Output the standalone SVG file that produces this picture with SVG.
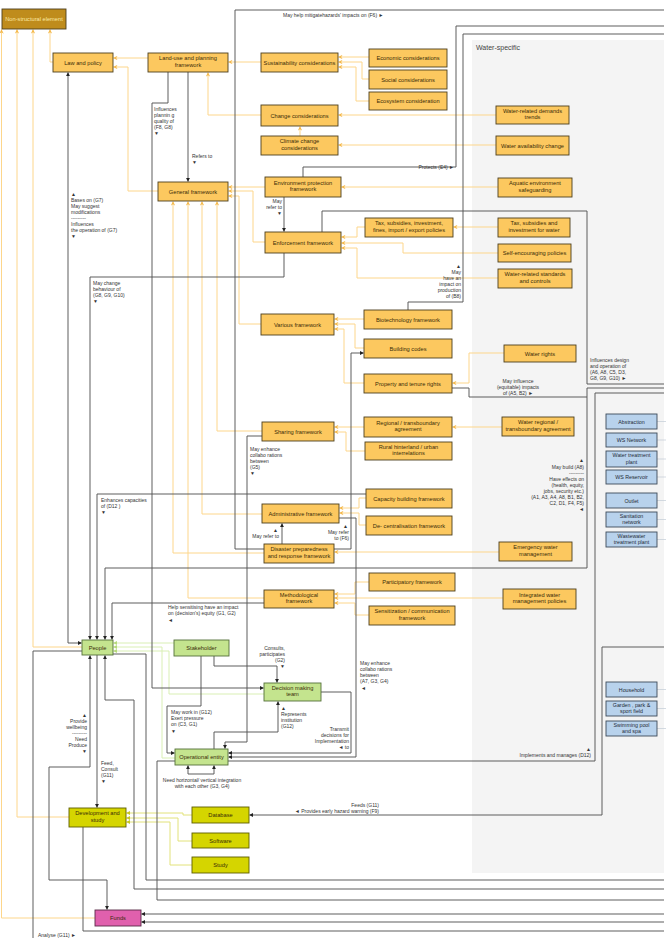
<svg xmlns="http://www.w3.org/2000/svg" width="669" height="938" viewBox="0 0 669 938">
<defs>
<style>
.o rect{fill:#fcc85f;stroke:#4d3f1d;stroke-width:0.9}
.g rect{fill:#c4e48e;stroke:#55703a;stroke-width:0.9}
.y rect{fill:#d5d500;stroke:#5e5e00;stroke-width:0.9}
.p rect{fill:#e060ad;stroke:#5a2a48;stroke-width:0.9}
.b rect{fill:#b8d2ec;stroke:#3d4b5a;stroke-width:0.9}
text{font-family:"Liberation Sans",Arial,sans-serif}
.n text{font-size:5.7px;fill:#3a2c08;text-anchor:middle}
.b text{font-size:5.3px;fill:#1f2a36}
.lb{font-size:5px;fill:#333}
.r{text-anchor:end}
.m{text-anchor:middle}
.c path{fill:none}
.dk{stroke:#555;stroke-width:0.95}
.or{stroke:#fdd68b;stroke-width:1}
.gr{stroke:#d9efb4;stroke-width:1}
.yg{stroke:#e2e27a;stroke-width:1}
.stub{stroke:#b8c4d0;stroke-width:0.6}
</style>
<marker id="ad" viewBox="0 0 6 6" refX="5.5" refY="3" markerWidth="4" markerHeight="4" orient="auto-start-reverse" markerUnits="userSpaceOnUse"><path d="M0,0 L6,3 L0,6 z" fill="#222"/></marker>
<marker id="ao" viewBox="0 0 6 6" refX="5.5" refY="3" markerWidth="4.5" markerHeight="4.5" orient="auto" markerUnits="userSpaceOnUse"><path d="M0,0 L6,3 L0,6 L2,3 z" fill="#f4b84a"/></marker>
<marker id="ag" viewBox="0 0 6 6" refX="5.5" refY="3" markerWidth="4" markerHeight="4" orient="auto" markerUnits="userSpaceOnUse"><path d="M0,0 L6,3 L0,6 z" fill="#b6da7c"/></marker>
<marker id="ay" viewBox="0 0 6 6" refX="5.5" refY="3" markerWidth="4" markerHeight="4" orient="auto" markerUnits="userSpaceOnUse"><path d="M0,0 L6,3 L0,6 z" fill="#c8c820"/></marker>
</defs>
<rect width="669" height="938" fill="#fff"/>
<!-- water-specific panel -->
<rect x="472" y="40" width="192" height="833" fill="#f4f4f4"/>
<text x="476" y="50" font-size="7" fill="#444">Water-specific</text>

<g id="connectors" class="c">
<!-- composition links (orange) -->
<g class="or">
<path d="M53,62 H50 V29.5" marker-end="url(#ao)"/>
<path d="M82,647 H33 V29.5" marker-end="url(#ao)"/>
<path d="M69,817 H17 V29.5" marker-end="url(#ao)"/>
<path d="M95,918 H1.5 V29.5" marker-end="url(#ao)"/>
<path d="M148,58 H113.5" marker-end="url(#ao)"/>
<path d="M158,191 H128 V67 H113.5" marker-end="url(#ao)"/>
<path d="M261,62 H228.5" marker-end="url(#ao)"/>
<path d="M261,115 H208 V72.5" marker-end="url(#ao)"/>
<path d="M369,57 H338.5" marker-end="url(#ao)"/>
<path d="M369,79 H362 V62 H338.5" marker-end="url(#ao)"/>
<path d="M369,101 H356 V67 H338.5" marker-end="url(#ao)"/>
<path d="M300,136 V126.5" marker-end="url(#ao)"/>
<path d="M496,115 H338.5" marker-end="url(#ao)"/>
<path d="M496,145 H338.5" marker-end="url(#ao)"/>
<path d="M498,187 H341.5" marker-end="url(#ao)"/>
<path d="M265,187 H228.5" marker-end="url(#ao)"/>
<path d="M265,242 H253 V191 H228.5" marker-end="url(#ao)"/>
<path d="M261,324 H239 V196 H228.5" marker-end="url(#ao)"/>
<path d="M262,431 H217 V201.5" marker-end="url(#ao)"/>
<path d="M262,514 H202 V201.5" marker-end="url(#ao)"/>
<path d="M264,598 H188 V201.5" marker-end="url(#ao)"/>
<path d="M264,553 H173 V201.5" marker-end="url(#ao)"/>
<path d="M365,227 H357 V237 H341.5" marker-end="url(#ao)"/>
<path d="M498,253 H403 V243 H341.5" marker-end="url(#ao)"/>
<path d="M498,278 H357 V248 H341.5" marker-end="url(#ao)"/>
<path d="M498,227 H453.5" marker-end="url(#ao)"/>
<path d="M364,319 H334.5" marker-end="url(#ao)"/>
<path d="M364,348 H355 V324 H334.5" marker-end="url(#ao)"/>
<path d="M364,383 H344 V329 H334.5" marker-end="url(#ao)"/>
<path d="M504,353 H469 V383 H452.5" marker-end="url(#ao)"/>
<path d="M364,427 H334.5" marker-end="url(#ao)"/>
<path d="M365,451 H346 V432 H334.5" marker-end="url(#ao)"/>
<path d="M502,427 H452.5" marker-end="url(#ao)"/>
<path d="M366,498 H359 V508 H339.5" marker-end="url(#ao)"/>
<path d="M366,525 H359 V513 H339.5" marker-end="url(#ao)"/>
<path d="M499,552 H334.5" marker-end="url(#ao)"/>
<path d="M369,582 H355 V594 H334.5" marker-end="url(#ao)"/>
<path d="M503,598 H334.5" marker-end="url(#ao)"/>
<path d="M369,615 H355 V603 H334.5" marker-end="url(#ao)"/>
</g>
<!-- actor links (green) -->
<g class="gr">
<path d="M174,643 H113.5" marker-end="url(#ag)"/>
<path d="M175,758 H162 V647 H113.5" marker-end="url(#ag)"/>
<path d="M264,694 H169 V651 H113.5" marker-end="url(#ag)"/>
</g>
<!-- study links (yellow) -->
<g class="yg">
<path d="M192,815 H183 V813 H126.5" marker-end="url(#ay)"/>
<path d="M192,841 H178 V818 H126.5" marker-end="url(#ay)"/>
<path d="M192,865 H170 V822 H126.5" marker-end="url(#ay)"/>
</g>
<!-- relations (dark) -->
<g class="dk">
<path d="M264,549 H235 V10 H664"/>
<path d="M303,177 V167 H456 V26 H664"/>
<path d="M322,232 V211 H587 V384 H664"/>
<path d="M284,253 V277 H90 V639.5" marker-end="url(#ad)"/>
<path d="M284,197 V231.5" marker-end="url(#ad)"/>
<path d="M188,72 V181.5" marker-end="url(#ad)"/>
<path d="M168,72 V103 H152 V688 H263.5" marker-end="url(#ad)"/>
<path d="M68,72.5 V643 H81.5" marker-start="url(#ad)" marker-end="url(#ad)"/>
<path d="M408,310 V302 H463 V34 H664"/>
<path d="M452,388 H469 V397 H587"/>
<path d="M664,388 H587 V568 H105 V639.5" marker-end="url(#ad)"/>
<path d="M366,494 H97 V639.5" marker-end="url(#ad)"/>
<path d="M262,436 H247 V742 H225 V748.5" marker-end="url(#ad)"/>
<path d="M334,549 H351 V353 H363.5" marker-end="url(#ad)"/>
<path d="M282,544 V523.5" marker-end="url(#ad)"/>
<path d="M339,518 H356 V757 H228.5" marker-end="url(#ad)"/>
<path d="M321,692 H351 V753 H228.5" marker-end="url(#ad)"/>
<path d="M264,603 H112 V639.5" marker-end="url(#ad)"/>
<path d="M214,656 V666 H277 V682.5" marker-end="url(#ad)"/>
<path d="M201,656 V706 H167 V753 H174.5" marker-end="url(#ad)"/>
<path d="M214,749 V732 H278 V701.5" marker-end="url(#ad)"/>
<path d="M188,765.5 V774 H214 V765.5" marker-start="url(#ad)" marker-end="url(#ad)"/>
<path d="M664,393 H595 V761 H157 V900 H664"/>
<path d="M664,647 H602 V815 H249.5" marker-end="url(#ad)"/>
<path d="M90,655.5 V767 H49 V880 H107 V909.5" marker-start="url(#ad)" marker-end="url(#ad)"/>
<path d="M113,654 H146 V880 H664"/>
<path d="M105,655.5 V700 H134 V889 H664" marker-start="url(#ad)"/>
<path d="M97,655 V807.5" marker-end="url(#ad)"/>
<path d="M82,651 H33 V938"/>
<path d="M83,827 V931 H664"/>
<path d="M664,914 H141.5" marker-end="url(#ad)"/>
<path d="M664,922 H141.5" marker-end="url(#ad)"/>
</g>
<!-- infrastructure stubs -->
<g class="stub">
<path d="M657,421.5 H666 M657,440 H666 M657,459 H666 M657,477 H666 M657,500.5 H666 M657,519.5 H666 M657,539.5 H666 M657,689.5 H666 M657,708.5 H666 M657,728.5 H666"/>
</g>
</g>

<!-- relation labels -->
<g id="labels" class="lb">
<text x="283" y="17">May help mitigatehazards' impacts on (F6) ►</text>
<text x="454" y="169" class="r">Protects (E4) ►</text>
<text x="154" y="111">Influences</text>
<text x="154" y="117">plannin g</text>
<text x="154" y="123">quality of</text>
<text x="154" y="129">(F8, G8)</text>
<text x="154" y="135">▼</text>
<text x="192" y="158">Refers to</text>
<text x="192" y="164">▼</text>
<text x="71" y="196">▲</text>
<text x="71" y="202">Bases on (G7)</text>
<text x="71" y="208">May suggest</text>
<text x="71" y="214">modifications</text>
<text x="71" y="220">---------</text>
<text x="71" y="226">Influences</text>
<text x="71" y="232">the operation of (G7)</text>
<text x="71" y="238">▼</text>
<text x="282" y="203" class="r">May</text>
<text x="282" y="209" class="r">refer to</text>
<text x="282" y="215" class="r">▼</text>
<text x="461" y="268" class="r">▲</text>
<text x="461" y="274" class="r">May</text>
<text x="461" y="280" class="r">have an</text>
<text x="461" y="286" class="r">impact on</text>
<text x="461" y="292" class="r">production</text>
<text x="461" y="298" class="r">of (B8)</text>
<text x="590" y="362">Influences design</text>
<text x="590" y="368">and operation of</text>
<text x="590" y="374">(A6, A8, C5, D3,</text>
<text x="590" y="380">G8, G9, G10)    ►</text>
<text x="518" y="383" class="m">May influence</text>
<text x="518" y="389" class="m">(equitable) impacts</text>
<text x="518" y="395" class="m">of (A5, B2) ►</text>
<text x="93" y="285">May change</text>
<text x="93" y="291">behaviour of</text>
<text x="93" y="297">(G8, G9, G10)</text>
<text x="93" y="303">▼</text>
<text x="250" y="451">May enhance</text>
<text x="250" y="457">collabo rations</text>
<text x="250" y="463">between</text>
<text x="250" y="469">(G5)</text>
<text x="250" y="475">▼</text>
<text x="101" y="502">Enhances capacities</text>
<text x="101" y="508">of (D12 )</text>
<text x="101" y="514">▼</text>
<text x="584" y="462" class="r">▲</text>
<text x="584" y="469" class="r">May build (A8)</text>
<text x="584" y="475" class="r">---------</text>
<text x="584" y="481" class="r">Have effects on</text>
<text x="584" y="487" class="r">(health, equity,</text>
<text x="584" y="493" class="r">jobs, security etc.)</text>
<text x="584" y="499" class="r">(A1, A3, A4, A8, B1, B2,</text>
<text x="584" y="505" class="r">C2, D1, F4, F5)</text>
<text x="584" y="511" class="r">◄</text>
<text x="278" y="532" class="r">▲</text>
<text x="279" y="538" class="r">May refer to</text>
<text x="348" y="528" class="r">▲</text>
<text x="349" y="534" class="r">May refer</text>
<text x="349" y="540" class="r">to (F6)</text>
<text x="168" y="609">Help sensitising have an impact</text>
<text x="168" y="615">on (decision's) equity (G1, G2)</text>
<text x="168" y="622">◄</text>
<text x="285" y="650" class="r">Consults,</text>
<text x="285" y="656" class="r">participates</text>
<text x="285" y="662" class="r">(G2)</text>
<text x="285" y="668" class="r">▼</text>
<text x="360" y="665">May enhance</text>
<text x="360" y="671">collabo rations</text>
<text x="360" y="677">between</text>
<text x="360" y="683">(A7, G3, G4)</text>
<text x="361" y="690">◄</text>
<text x="281" y="710">▲</text>
<text x="281" y="716">Represents</text>
<text x="281" y="722">institution</text>
<text x="281" y="728">(G12)</text>
<text x="349" y="731" class="r">Transmit</text>
<text x="349" y="737" class="r">decisions for</text>
<text x="349" y="743" class="r">Implementation</text>
<text x="349" y="749" class="r">◄ to</text>
<text x="171" y="714">May work in (G12)</text>
<text x="171" y="720">Exert pressure</text>
<text x="171" y="726">on (C3, G1)</text>
<text x="171" y="733">▼</text>
<text x="202" y="782" class="m">Need horizontal/ vertical integration</text>
<text x="202" y="788" class="m">with each other (G3, G4)</text>
<text x="87" y="717" class="r">▲</text>
<text x="87" y="723" class="r">Provide</text>
<text x="87" y="729" class="r">wellbeing</text>
<text x="87" y="735" class="r">---------</text>
<text x="87" y="741" class="r">Need</text>
<text x="87" y="747" class="r">Produce</text>
<text x="87" y="753" class="r">▼</text>
<text x="101" y="765">Feed,</text>
<text x="101" y="771">Consult</text>
<text x="101" y="777">(G11)</text>
<text x="101" y="783">▼</text>
<text x="379" y="807" class="r">Feeds (G11)</text>
<text x="379" y="813" class="r">◄ Provides early hazard warning (F9)</text>
<text x="591" y="751" class="r">▲</text>
<text x="591" y="757" class="r">Implements and manages (D12)</text>
<text x="38" y="937">Analyse (G11) ►</text>
</g>

<!-- nodes -->
<g id="non-structural-element" class="n"><rect x="2" y="9" width="64" height="20" style="fill:#bf8c1c;stroke:#4d3f1d;stroke-width:0.9"/><text x="34" y="21" style="fill:#fbe8a4">Non-structural element</text></g>
<g id="law-and-policy" class="n o"><rect x="53" y="53" width="60" height="19"/><text x="83" y="64.5">Law and policy</text></g>
<g id="land-use-framework" class="n o"><rect x="148" y="53" width="80" height="19"/><text x="188" y="60">Land-use and planning</text><text x="188" y="66.5">framework</text></g>
<g id="general-framework" class="n o"><rect x="158" y="182" width="70" height="19"/><text x="193" y="193.5">General  framework</text></g>
<g id="sustainability" class="n o"><rect x="261" y="53" width="77" height="19"/><text x="299.5" y="64.5">Sustainability considerations</text></g>
<g id="economic" class="n o"><rect x="369" y="49" width="78" height="18"/><text x="408" y="60">Economic considerations</text></g>
<g id="social" class="n o"><rect x="369" y="70" width="78" height="19"/><text x="408" y="81.5">Social considerations</text></g>
<g id="ecosystem" class="n o"><rect x="369" y="92" width="78" height="18"/><text x="408" y="103">Ecosystem consideration</text></g>
<g id="change" class="n o"><rect x="261" y="105" width="77" height="21"/><text x="299.5" y="117.5">Change considerations</text></g>
<g id="climate-change" class="n o"><rect x="261" y="136" width="77" height="19"/><text x="299.5" y="143">Climate change</text><text x="299.5" y="149.5">considerations</text></g>
<g id="environment-protection" class="n o"><rect x="265" y="177" width="76" height="20"/><text x="303" y="184.5">Environment protection</text><text x="303" y="191">framework</text></g>
<g id="enforcement" class="n o"><rect x="265" y="232" width="76" height="21"/><text x="303" y="244.5">Enforcement framework</text></g>
<g id="tax-general" class="n o"><rect x="365" y="218" width="88" height="19"/><text x="409" y="225">Tax,  subsidies,  investment,</text><text x="409" y="231.5">fines, import / export policies</text></g>
<g id="water-demands" class="n o"><rect x="496" y="106" width="73" height="18"/><text x="532.5" y="112.5">Water-related demands</text><text x="532.5" y="119">trends</text></g>
<g id="water-availability" class="n o"><rect x="496" y="136" width="73" height="19"/><text x="532.5" y="147.5">Water availability change</text></g>
<g id="aquatic" class="n o"><rect x="498" y="178" width="74" height="19"/><text x="535" y="185">Aquatic  environment</text><text x="535" y="191.5">safeguarding</text></g>
<g id="tax-water" class="n o"><rect x="498" y="218" width="72" height="19"/><text x="534" y="225">Tax,  subsidies and</text><text x="534" y="231.5">investment for water</text></g>
<g id="self-encouraging" class="n o"><rect x="498" y="244" width="73" height="18"/><text x="534.5" y="255">Self-encouraging policies</text></g>
<g id="water-standards" class="n o"><rect x="498" y="269" width="74" height="19"/><text x="535" y="276">Water-related standards</text><text x="535" y="282.5">and controls</text></g>
<g id="various" class="n o"><rect x="261" y="314" width="73" height="21"/><text x="297.5" y="326.5">Various  framework</text></g>
<g id="biotechnology" class="n o"><rect x="364" y="310" width="88" height="19"/><text x="408" y="321.5">Biotechnology framework</text></g>
<g id="building-codes" class="n o"><rect x="364" y="339" width="88" height="19"/><text x="408" y="350.5">Building codes</text></g>
<g id="property" class="n o"><rect x="364" y="374" width="88" height="19"/><text x="408" y="385.5">Property and tenure rights</text></g>
<g id="water-rights" class="n o"><rect x="504" y="345" width="72" height="17"/><text x="540" y="355.5">Water rights</text></g>
<g id="sharing" class="n o"><rect x="262" y="422" width="72" height="19"/><text x="298" y="433.5">Sharing  framework</text></g>
<g id="regional" class="n o"><rect x="364" y="417" width="88" height="20"/><text x="408" y="424.5">Regional  /  transboundary</text><text x="408" y="431">agreement</text></g>
<g id="rural" class="n o"><rect x="365" y="442" width="87" height="18"/><text x="408.5" y="448.5">Rural hinterland  /  urban</text><text x="408.5" y="455">interrelations</text></g>
<g id="water-regional" class="n o"><rect x="502" y="417" width="72" height="19"/><text x="538" y="424">Water regional  /</text><text x="538" y="430.5">transboundary agreement</text></g>
<g id="administrative" class="n o"><rect x="262" y="504" width="77" height="19"/><text x="300.5" y="515.5">Administrative framework</text></g>
<g id="capacity-building" class="n o"><rect x="366" y="489" width="86" height="19"/><text x="409" y="500.5">Capacity building framework</text></g>
<g id="decentralisation" class="n o"><rect x="366" y="516" width="86" height="19"/><text x="409" y="527.5">De- centralisation framework</text></g>
<g id="disaster" class="n o"><rect x="264" y="544" width="70" height="19"/><text x="299" y="551">Disaster preparedness</text><text x="299" y="557.5">and response framework</text></g>
<g id="emergency" class="n o"><rect x="499" y="542" width="73" height="19"/><text x="535.5" y="549">Emergency  water</text><text x="535.5" y="555.5">management</text></g>
<g id="methodological" class="n o"><rect x="264" y="590" width="70" height="18"/><text x="299" y="596.5">Methodological</text><text x="299" y="603">framework</text></g>
<g id="participatory" class="n o"><rect x="369" y="573" width="86" height="18"/><text x="412" y="584">Participatory framework</text></g>
<g id="sensitization" class="n o"><rect x="369" y="606" width="86" height="19"/><text x="412" y="613">Sensitization  /  communication</text><text x="412" y="619.5">framework</text></g>
<g id="integrated-water" class="n o"><rect x="503" y="589" width="73" height="20"/><text x="539.5" y="596.5">Integrated water</text><text x="539.5" y="603">management policies</text></g>

<g id="people" class="n g"><rect x="82" y="640" width="31" height="15"/><text x="97.5" y="649.5">People</text></g>
<g id="stakeholder" class="n g"><rect x="174" y="640" width="55" height="16"/><text x="201.5" y="650">Stakeholder</text></g>
<g id="decision-team" class="n g"><rect x="264" y="683" width="57" height="18"/><text x="292.5" y="689.5">Decision making</text><text x="292.5" y="696">team</text></g>
<g id="operational-entity" class="n g"><rect x="175" y="749" width="53" height="16"/><text x="201.5" y="759">Operational  entity</text></g>
<g id="development-study" class="n y"><rect x="69" y="808" width="57" height="19"/><text x="97.5" y="815">Development and</text><text x="97.5" y="821.5">study</text></g>
<g id="database" class="n y"><rect x="192" y="807" width="57" height="16"/><text x="220.5" y="817">Database</text></g>
<g id="software" class="n y"><rect x="192" y="833" width="57" height="15"/><text x="220.5" y="842.5">Software</text></g>
<g id="study" class="n y"><rect x="192" y="857" width="57" height="16"/><text x="220.5" y="867">Study</text></g>
<g id="funds" class="n p"><rect x="95" y="910" width="46" height="16"/><text x="118" y="920">Funds</text></g>

<g id="abstraction" class="n b"><rect x="606" y="414" width="51" height="15"/><text x="631.5" y="423.5">Abstraction</text></g>
<g id="ws-network" class="n b"><rect x="606" y="433" width="51" height="14"/><text x="631.5" y="442">WS Network</text></g>
<g id="water-treatment" class="n b"><rect x="606" y="451" width="51" height="16"/><text x="631.5" y="457">Water treatment</text><text x="631.5" y="463.5">plant</text></g>
<g id="ws-reservoir" class="n b"><rect x="606" y="470" width="51" height="14"/><text x="631.5" y="479">WS Reservoir</text></g>
<g id="outlet" class="n b"><rect x="606" y="493" width="51" height="15"/><text x="631.5" y="502.5">Outlet</text></g>
<g id="sanitation" class="n b"><rect x="606" y="512" width="51" height="15"/><text x="631.5" y="517.5">Sanitation</text><text x="631.5" y="524">network</text></g>
<g id="wastewater" class="n b"><rect x="606" y="532" width="51" height="15"/><text x="631.5" y="537.5">Wastewater</text><text x="631.5" y="544">treatment plant</text></g>
<g id="household" class="n b"><rect x="606" y="682" width="51" height="15"/><text x="631.5" y="691.5">Household</text></g>
<g id="garden" class="n b"><rect x="606" y="701" width="51" height="15"/><text x="631.5" y="706.5">Garden , park &amp;</text><text x="631.5" y="713">sport field</text></g>
<g id="swimming-pool" class="n b"><rect x="606" y="721" width="51" height="15"/><text x="631.5" y="726.5">Swimming pool</text><text x="631.5" y="733">and spa</text></g>
</svg>
